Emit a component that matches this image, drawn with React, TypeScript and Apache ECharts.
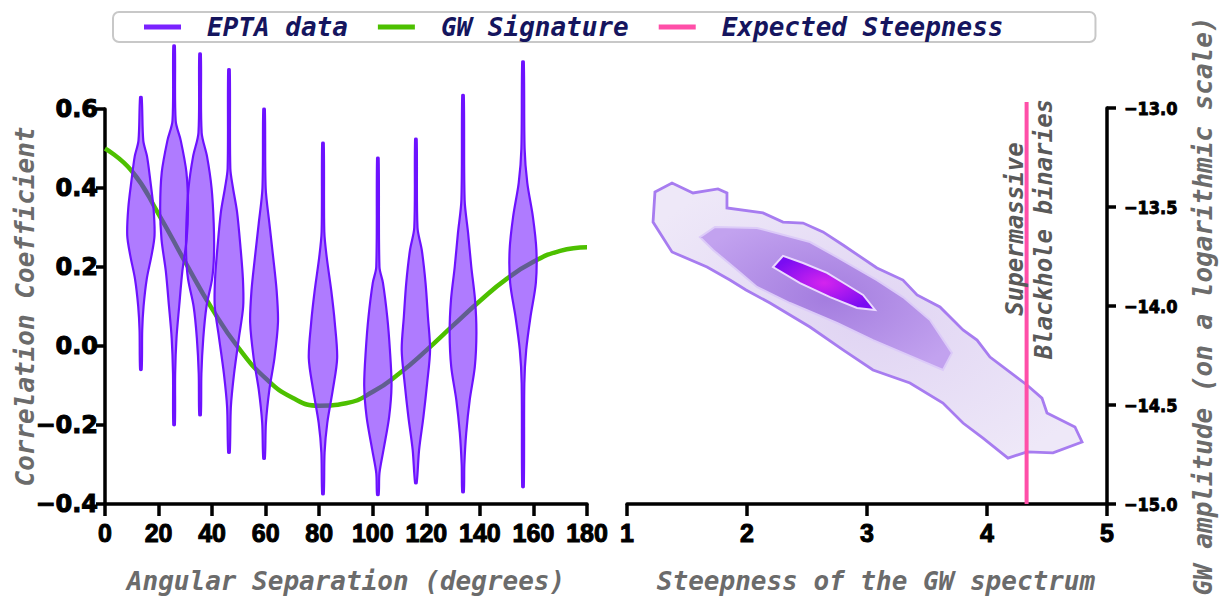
import React, { useEffect, useRef } from "react";
import * as echarts from "echarts";

// ---- Left panel: Hellings-Downs style correlation ----
const angleTicks = [0, 20, 40, 60, 80, 100, 120, 140, 160, 180];
const gwAngles = [0, 10, 20, 30, 40, 50, 60, 70, 80, 90, 100, 110, 120, 130, 140, 150, 160, 170, 180];
const gwValues = [0.5, 0.443, 0.334, 0.212, 0.094, -0.006, -0.082, -0.131, -0.151, -0.145, -0.116, -0.069, -0.011, 0.052, 0.114, 0.17, 0.213, 0.241, 0.25];

// violin positions (degrees) and outlines as [correlation, half width in degrees]
const violinPositions = [13.4, 25.8, 35.5, 46.3, 59.4, 81.4, 101.9, 116.1, 133.7, 156.1];
const violin1 = [[0.63, 0.3], [0.52, 0.9], [0.48, 2.3], [0.42, 3.5], [0.35, 4.7], [0.28, 5.1], [0.23, 4.0], [0.17, 2.2], [0.1, 1.0], [0.04, 0.5], [-0.06, 0.3]];
const violin2 = [[0.76, 0.3], [0.57, 0.6], [0.52, 2.5], [0.44, 4.6], [0.35, 5.2], [0.27, 4.7], [0.19, 3.1], [0.1, 1.9], [0.02, 0.9], [-0.07, 0.4], [-0.2, 0.3]];
const violin3 = [[0.74, 0.3], [0.54, 0.6], [0.48, 2.6], [0.4, 4.3], [0.31, 5.1], [0.23, 5.2], [0.17, 4.5], [0.1, 2.4], [0.02, 1.2], [-0.07, 0.5], [-0.175, 0.3]];
const violin4 = [[0.7, 0.3], [0.45, 0.5], [0.4, 1.5], [0.34, 3.0], [0.25, 4.3], [0.17, 5.2], [0.1, 5.3], [0.02, 3.7], [-0.07, 1.9], [-0.155, 0.7], [-0.27, 0.3]];
const violin5 = [[0.6, 0.3], [0.4, 0.6], [0.31, 2.0], [0.225, 3.4], [0.14, 4.7], [0.06, 5.2], [-0.03, 3.9], [-0.11, 2.0], [-0.195, 0.7], [-0.285, 0.3]];
const violin6 = [[0.514, 0.3], [0.29, 0.5], [0.225, 1.4], [0.14, 3.1], [0.06, 4.4], [-0.03, 5.3], [-0.11, 3.7], [-0.195, 1.6], [-0.27, 0.6], [-0.375, 0.3]];
const violin7 = [[0.476, 0.3], [0.2, 0.6], [0.16, 1.9], [0.074, 3.5], [-0.01, 4.5], [-0.1, 5.1], [-0.18, 4.2], [-0.263, 2.1], [-0.322, 0.6], [-0.377, 0.3]];
const violin8 = [[0.524, 0.3], [0.3, 0.6], [0.243, 2.2], [0.16, 3.6], [0.074, 4.5], [-0.01, 5.3], [-0.094, 4.2], [-0.18, 2.8], [-0.263, 1.2], [-0.347, 0.3]];
const violin9 = [[0.635, 0.3], [0.37, 0.6], [0.286, 1.9], [0.2, 3.1], [0.116, 4.5], [0.033, 5.0], [-0.053, 4.4], [-0.137, 2.5], [-0.22, 1.2], [-0.3, 0.5], [-0.37, 0.3]];
const violin10 = [[0.72, 0.3], [0.5, 0.6], [0.413, 1.6], [0.327, 3.7], [0.243, 5.0], [0.16, 4.8], [0.074, 2.8], [-0.01, 1.2], [-0.094, 0.5], [-0.357, 0.3]];
const violinOutlines = [violin1, violin2, violin3, violin4, violin5, violin6, violin7, violin8, violin9, violin10];

// ---- Right panel: posterior contours (steepness, log10 amplitude) ----
const contourOuter = [
  [1.233, -13.424], [1.375, -13.379], [1.55, -13.429], [1.758, -13.409], [1.833, -13.429], [1.833, -13.505],
  [2.133, -13.53], [2.3, -13.576], [2.467, -13.581], [2.633, -13.626], [2.8, -13.692], [3.083, -13.808],
  [3.3, -13.869], [3.417, -13.944], [3.608, -14.005], [3.8, -14.121], [3.917, -14.172], [4.025, -14.258],
  [4.333, -14.399], [4.458, -14.465], [4.5, -14.54], [4.733, -14.611], [4.792, -14.687], [4.55, -14.742],
  [4.333, -14.737], [4.175, -14.768], [3.967, -14.667], [3.8, -14.591], [3.633, -14.49], [3.358, -14.389],
  [3.05, -14.323], [2.8, -14.222], [2.525, -14.106], [2.192, -13.985], [1.992, -13.919], [1.858, -13.869],
  [1.667, -13.803], [1.375, -13.727], [1.217, -13.576],
];
const contourMiddle = [
  [1.608, -13.652], [1.733, -13.601], [2.083, -13.606], [2.275, -13.636], [2.525, -13.677], [2.75, -13.753],
  [3.083, -13.869], [3.3, -13.955], [3.525, -14.071], [3.708, -14.237], [3.633, -14.323], [3.383, -14.258],
  [3.05, -14.172], [2.75, -14.086], [2.358, -13.985], [2.083, -13.904], [1.917, -13.818], [1.717, -13.717],
];
const contourInner = [
  [2.217, -13.803], [2.3, -13.747], [2.467, -13.783], [2.667, -13.833], [2.833, -13.894], [2.967, -13.944],
  [3.067, -14.02], [2.917, -14.01], [2.692, -13.955], [2.442, -13.884],
];
const contourLevels = [contourOuter, contourMiddle, contourInner];
const steepnessTicks = [1, 2, 3, 4, 5];
const amplitudeTicks = [-15, -14.5, -14, -13.5, -13];
const expectedSteepness = 4.33;
const expectedLineSpan = [-15, -12.97];

const MONO = "'DejaVu Sans Mono', monospace";
const nameStyle = { fontFamily: MONO, fontStyle: "italic", fontWeight: "bold", fontSize: 26, color: "#6b6b6b" };
const fmtMinus = (v: number, d: number) => (Math.abs(v) < 1e-9 ? (0).toFixed(d) : v.toFixed(d)).replace("-", "\u2212");
const xLabelFont = {
  fontFamily: "'Liberation Sans', Arial, sans-serif",
  fontWeight: "bold",
  fontSize: 25,
  color: "#000",
  textBorderColor: "#000",
  textBorderWidth: 1,
  margin: 16,
};

export default function App() {
  const ref = useRef<HTMLDivElement>(null);
  useEffect(() => {
    if (!ref.current) return;
    const chart = echarts.init(ref.current, null, { renderer: "svg" });

    const contourStyles = [
      {
        fill: new echarts.graphic.RadialGradient(0.5, 0.5, 0.6, [
          { offset: 0, color: "#e0d4f3" },
          { offset: 1, color: "#eee8f8" },
        ]),
        stroke: "#a77cf0",
        lineWidth: 2.8,
      },
      {
        fill: new echarts.graphic.RadialGradient(0.5, 0.5, 0.6, [
          { offset: 0, color: "#a47ddf" },
          { offset: 1, color: "#c2a2ef" },
        ]),
        stroke: "#dccbf8",
        lineWidth: 2,
      },
      {
        fill: new echarts.graphic.RadialGradient(0.5, 0.5, 0.55, [
          { offset: 0, color: "#d424ee" },
          { offset: 1, color: "#7a0cf2" },
        ]),
        stroke: "#ead9ff",
        lineWidth: 2,
      },
    ];

    const axisLine = { show: true, onZero: false, lineStyle: { color: "#000", width: 3.5 } };

    chart.setOption({
      animation: false,
      legend: {
        left: 113,
        top: 12,
        orient: "horizontal",
        itemWidth: 37,
        itemHeight: 5,
        itemGap: 30,
        padding: [2, 92, 2, 31],
        borderColor: "#c8c8c8",
        borderWidth: 2,
        borderRadius: 6,
        backgroundColor: "#fff",
        textStyle: {
          fontFamily: MONO,
          fontStyle: "italic",
          fontWeight: "bold",
          fontSize: 26,
          lineHeight: 26,
          color: "#15155e",
          padding: [0, 0, 0, 21],
        },
        data: [
          { name: "EPTA data", icon: "rect", itemStyle: { color: "#7a22ff" } },
          { name: "GW Signature", icon: "rect", itemStyle: { color: "#4dc000" } },
          { name: "Expected Steepness", icon: "rect", itemStyle: { color: "#ff4fa8" } },
        ],
      },
      grid: [
        { left: 105, right: 633, top: 109, bottom: 100 },
        { left: 627, right: 113, top: 108, bottom: 100 },
      ],
      xAxis: [
        {
          gridIndex: 0,
          type: "value",
          min: angleTicks[0],
          max: angleTicks[angleTicks.length - 1],
          interval: 20,
          splitLine: { show: false },
          axisLine,
          axisTick: { show: true, length: 12, lineStyle: { width: 3.5, color: "#000" } },
          axisLabel: xLabelFont,
          name: "Angular Separation (degrees)",
          nameLocation: "middle",
          nameGap: 64,
          nameTextStyle: nameStyle,
        },
        {
          gridIndex: 1,
          type: "value",
          min: steepnessTicks[0],
          max: steepnessTicks[steepnessTicks.length - 1],
          interval: 1,
          splitLine: { show: false },
          axisLine,
          axisTick: { show: true, length: 12, lineStyle: { width: 3.5, color: "#000" } },
          axisLabel: xLabelFont,
          name: "Steepness of the GW spectrum",
          nameLocation: "middle",
          nameGap: 64,
          nameTextStyle: { ...nameStyle, padding: [0, 0, 0, 18] },
        },
      ],
      yAxis: [
        {
          gridIndex: 0,
          type: "value",
          min: -0.4,
          max: 0.6,
          interval: 0.2,
          splitLine: { show: false },
          axisLine,
          axisTick: { show: true, length: 9, lineStyle: { width: 3.5, color: "#000" } },
          axisLabel: {
            fontFamily: "'DejaVu Sans', sans-serif",
            fontWeight: "bold",
            fontSize: 24,
            color: "#000",
            textBorderColor: "#000",
            textBorderWidth: 1,
            margin: 7,
            formatter: (v: number) => fmtMinus(v, 1),
          },
          name: "Correlation Coefficient",
          nameLocation: "middle",
          nameRotate: 90,
          nameGap: 67,
          nameMoveOverlap: false,
          nameTextStyle: nameStyle,
        },
        {
          gridIndex: 1,
          type: "value",
          position: "right",
          min: amplitudeTicks[0],
          max: amplitudeTicks[amplitudeTicks.length - 1],
          interval: 0.5,
          splitLine: { show: false },
          axisLine,
          axisTick: { show: true, length: 9, lineStyle: { width: 3.5, color: "#000" } },
          axisLabel: {
            fontFamily: "'DejaVu Sans Condensed', 'DejaVu Sans', sans-serif",
            fontWeight: "bold",
            fontSize: 18,
            color: "#000",
            textBorderColor: "#000",
            textBorderWidth: 0.8,
            margin: 17,
            formatter: (v: number) => fmtMinus(v, 1),
          },
          name: "GW amplitude (on a logarithmic scale)",
          nameLocation: "middle",
          nameRotate: 90,
          nameGap: 83,
          nameMoveOverlap: false,
          nameTextStyle: nameStyle,
        },
      ],
      series: [
        {
          name: "GW Signature",
          type: "line",
          xAxisIndex: 0,
          yAxisIndex: 0,
          data: gwAngles.map((a, i) => [a, gwValues[i]]),
          smooth: true,
          showSymbol: false,
          symbol: "none",
          lineStyle: { color: "#4dc000", width: 4.5 },
          itemStyle: { color: "#4dc000" },
          z: 2,
        },
        {
          name: "EPTA data",
          type: "custom",
          xAxisIndex: 0,
          yAxisIndex: 0,
          clip: false,
          z: 3,
          itemStyle: { color: "#7a22ff" },
          data: violinPositions.map((p, i) => [p, violinOutlines[i][0][0]]),
          renderItem: (params: any, api: any) => {
            const idx = params.dataIndex;
            const pos = violinPositions[idx];
            const outline = violinOutlines[idx];
            const right = outline.map(([v, hw]) => api.coord([pos + hw, v]));
            const left = outline
              .slice()
              .reverse()
              .map(([v, hw]) => api.coord([pos - hw, v]));
            return {
              type: "polygon",
              shape: { points: right.concat(left), smooth: 0.3 },
              style: { fill: "rgba(112,20,255,0.56)", stroke: "#6d12ff", lineWidth: 2.2 },
            };
          },
        },
        {
          name: "Posterior",
          type: "custom",
          xAxisIndex: 1,
          yAxisIndex: 1,
          clip: false,
          z: 2,
          data: contourLevels.map((lv) => lv[0]),
          renderItem: (params: any, api: any) => {
            const idx = params.dataIndex;
            const pts = contourLevels[idx].map((p) => api.coord(p));
            return {
              type: "polygon",
              shape: { points: pts },
              style: contourStyles[idx],
            };
          },
        },
        {
          name: "Expected Steepness",
          type: "line",
          xAxisIndex: 1,
          yAxisIndex: 1,
          clip: false,
          data: expectedLineSpan.map((y) => [expectedSteepness, y]),
          symbol: "none",
          showSymbol: false,
          lineStyle: { color: "#ff4fa8", width: 4 },
          itemStyle: { color: "#ff4fa8" },
          z: 4,
        },
      ],
      graphic: [
        {
          type: "text",
          x: 1029,
          y: 229,
          rotation: Math.PI / 2,
          z: 10,
          style: {
            text: "Supermassive\nBlackhole binaries",
            align: "center",
            verticalAlign: "middle",
            fontFamily: MONO,
            fontStyle: "italic",
            fontWeight: "bold",
            fontSize: 24,
            lineHeight: 29,
            fill: "#595959",
          },
        },
      ],
    });
    return () => chart.dispose();
  }, []);
  return <div ref={ref} style={{ position: "absolute", left: 0, top: 0, width: 1220, height: 604 }} />;
}
